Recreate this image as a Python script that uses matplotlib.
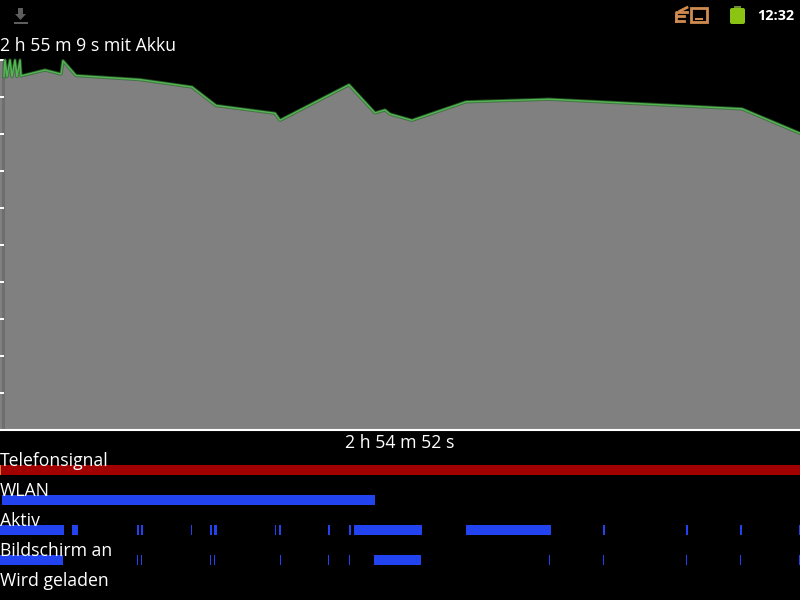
"""Android battery history screen"""
import matplotlib
matplotlib.use('Agg')
import matplotlib.pyplot as plt
from matplotlib.patches import Rectangle, FancyBboxPatch, Polygon

# time position along the screen width (0-800), battery level in percent
curve_t = [4, 5, 7, 10, 12, 15, 17, 20, 21, 45, 61, 63, 76, 140, 192, 216, 275,
           280, 349, 375, 385, 390, 412, 466, 549, 742, 800]
curve_level = [95.5, 100, 95.5, 100, 95.5, 100, 95.5, 100, 95.7, 97.3, 96.2, 99.8, 95.8,
               94.7, 92.7, 87.7, 85.6, 83.7, 93.3, 85.7, 86.5, 85.4, 83.7, 88.7, 89.4, 86.8, 80.2]
level_ticks = [0, 10, 20, 30, 40, 50, 60, 70, 80, 90, 100]

lane_names = ['Telefonsignal', 'WLAN', 'Aktiv', 'Bildschirm an', 'Wird geladen']
signal_spans = [(0, 800)]
wlan_spans = [(2, 375)]
active_spans = [(0, 64), (72, 78), (137, 139), (141, 143), (191, 192), (210, 212),
                (214, 217), (275, 276), (279, 281), (328, 330), (349, 351),
                (354, 422), (466, 551), (603, 605), (686, 688), (740, 742), (799, 800)]
screen_spans = [(0, 63), (137, 138), (141, 142), (210, 211), (214, 215), (280, 281),
                (328, 329), (349, 350), (374, 421), (549, 550), (603, 604),
                (686, 687), (740, 741), (799, 800)]

FONT = 'Open Sans'
WHITE = '#ffffff'
BLUE = '#2244f0'

fig = plt.figure(figsize=(8, 6), dpi=100, facecolor='black')

# full screen axes in pixels, for the status bar and the lanes
screen = fig.add_axes([0, 0, 1, 1])
screen.set_xlim(0, 800)
screen.set_ylim(600, 0)
screen.axis('off')

# battery chart area
chart = fig.add_axes([0, (600 - 430) / 600, 1, 370 / 600], facecolor='black')
chart.set_xlim(0, 800)
chart.set_ylim(0, 100)
chart.fill_between(curve_t, curve_level, 0, color='#808080', lw=0)
chart.plot(curve_t, curve_level, color='#2c6a2c', lw=2.4, alpha=0.7, clip_on=False)
chart.plot(curve_t, curve_level, color='#55b555', lw=1.1, clip_on=False)
chart.axvspan(0, 2, color='#808080', lw=0)
chart.axvspan(2, 5, color='#6e6e6e', lw=0)
for s in chart.spines.values():
    s.set_visible(False)
chart.spines['bottom'].set_visible(True)
chart.spines['bottom'].set_color(WHITE)
chart.spines['bottom'].set_linewidth(1.5)
chart.set_xticks([])
chart.set_yticks(level_ticks)
chart.tick_params(axis='y', direction='in', length=3.2, width=1.4, color=WHITE, labelleft=False)

# lanes
screen.add_patch(Rectangle((0, 465), 800, 10, color='#a00000', lw=0))
screen.add_patch(Rectangle((0, 465), 1, 10, color='#d08030', lw=0))
screen.broken_barh([(a, b - a) for a, b in wlan_spans], (495, 10), color=BLUE, lw=0)
screen.broken_barh([(a, b - a) for a, b in active_spans], (525, 10), color=BLUE, lw=0)
screen.broken_barh([(a, b - a) for a, b in screen_spans], (555, 10), color=BLUE, lw=0)

for name, y in zip(lane_names, [461, 491, 521, 551, 581]):
    screen.text(0, y, name, color=WHITE, fontsize=12.7, family=FONT, va='center', ha='left')

screen.text(0, 46, '2 h 55 m 9 s mit Akku', color=WHITE, fontsize=12.7, family=FONT, va='center', ha='left')
screen.text(400, 443, '2 h 54 m 52 s', color=WHITE, fontsize=12.7, family=FONT, va='center', ha='center')

# status bar
screen.text(776, 15.5, '12:32', color=WHITE, fontsize=10.4, family=FONT, weight='bold', va='center', ha='center')
screen.add_patch(FancyBboxPatch((730, 8), 15, 16, boxstyle='round,pad=0,rounding_size=2',
                                color='#8cc414', lw=0))
screen.add_patch(Rectangle((734, 6), 7, 2, color='#6a8a30', lw=0))
# download icon
screen.add_patch(Polygon([(18, 8), (23, 8), (23, 14), (26, 14), (20.5, 20), (15, 14), (18, 14)],
                         color='#5e5e5e', lw=0))
screen.add_patch(Rectangle((14, 22), 14, 2, color='#5e5e5e', lw=0))
# orange sync icon
ORANGE = '#d08c50'
screen.add_patch(Rectangle((691, 8), 16, 13.5, fill=False, ec=ORANGE, lw=2))
screen.add_patch(Rectangle((695, 18), 8, 2, color=ORANGE, lw=0))
screen.plot([676, 684], [21, 21], color=ORANGE, lw=2)
screen.plot([676, 676, 687], [21, 11.5, 11.5], color=ORANGE, lw=2)
screen.plot([676, 684], [16, 16], color=ORANGE, lw=2)
screen.plot([680, 687], [11, 7.5], color=ORANGE, lw=2)

fig.savefig('out.png', dpi=100, facecolor='black')
